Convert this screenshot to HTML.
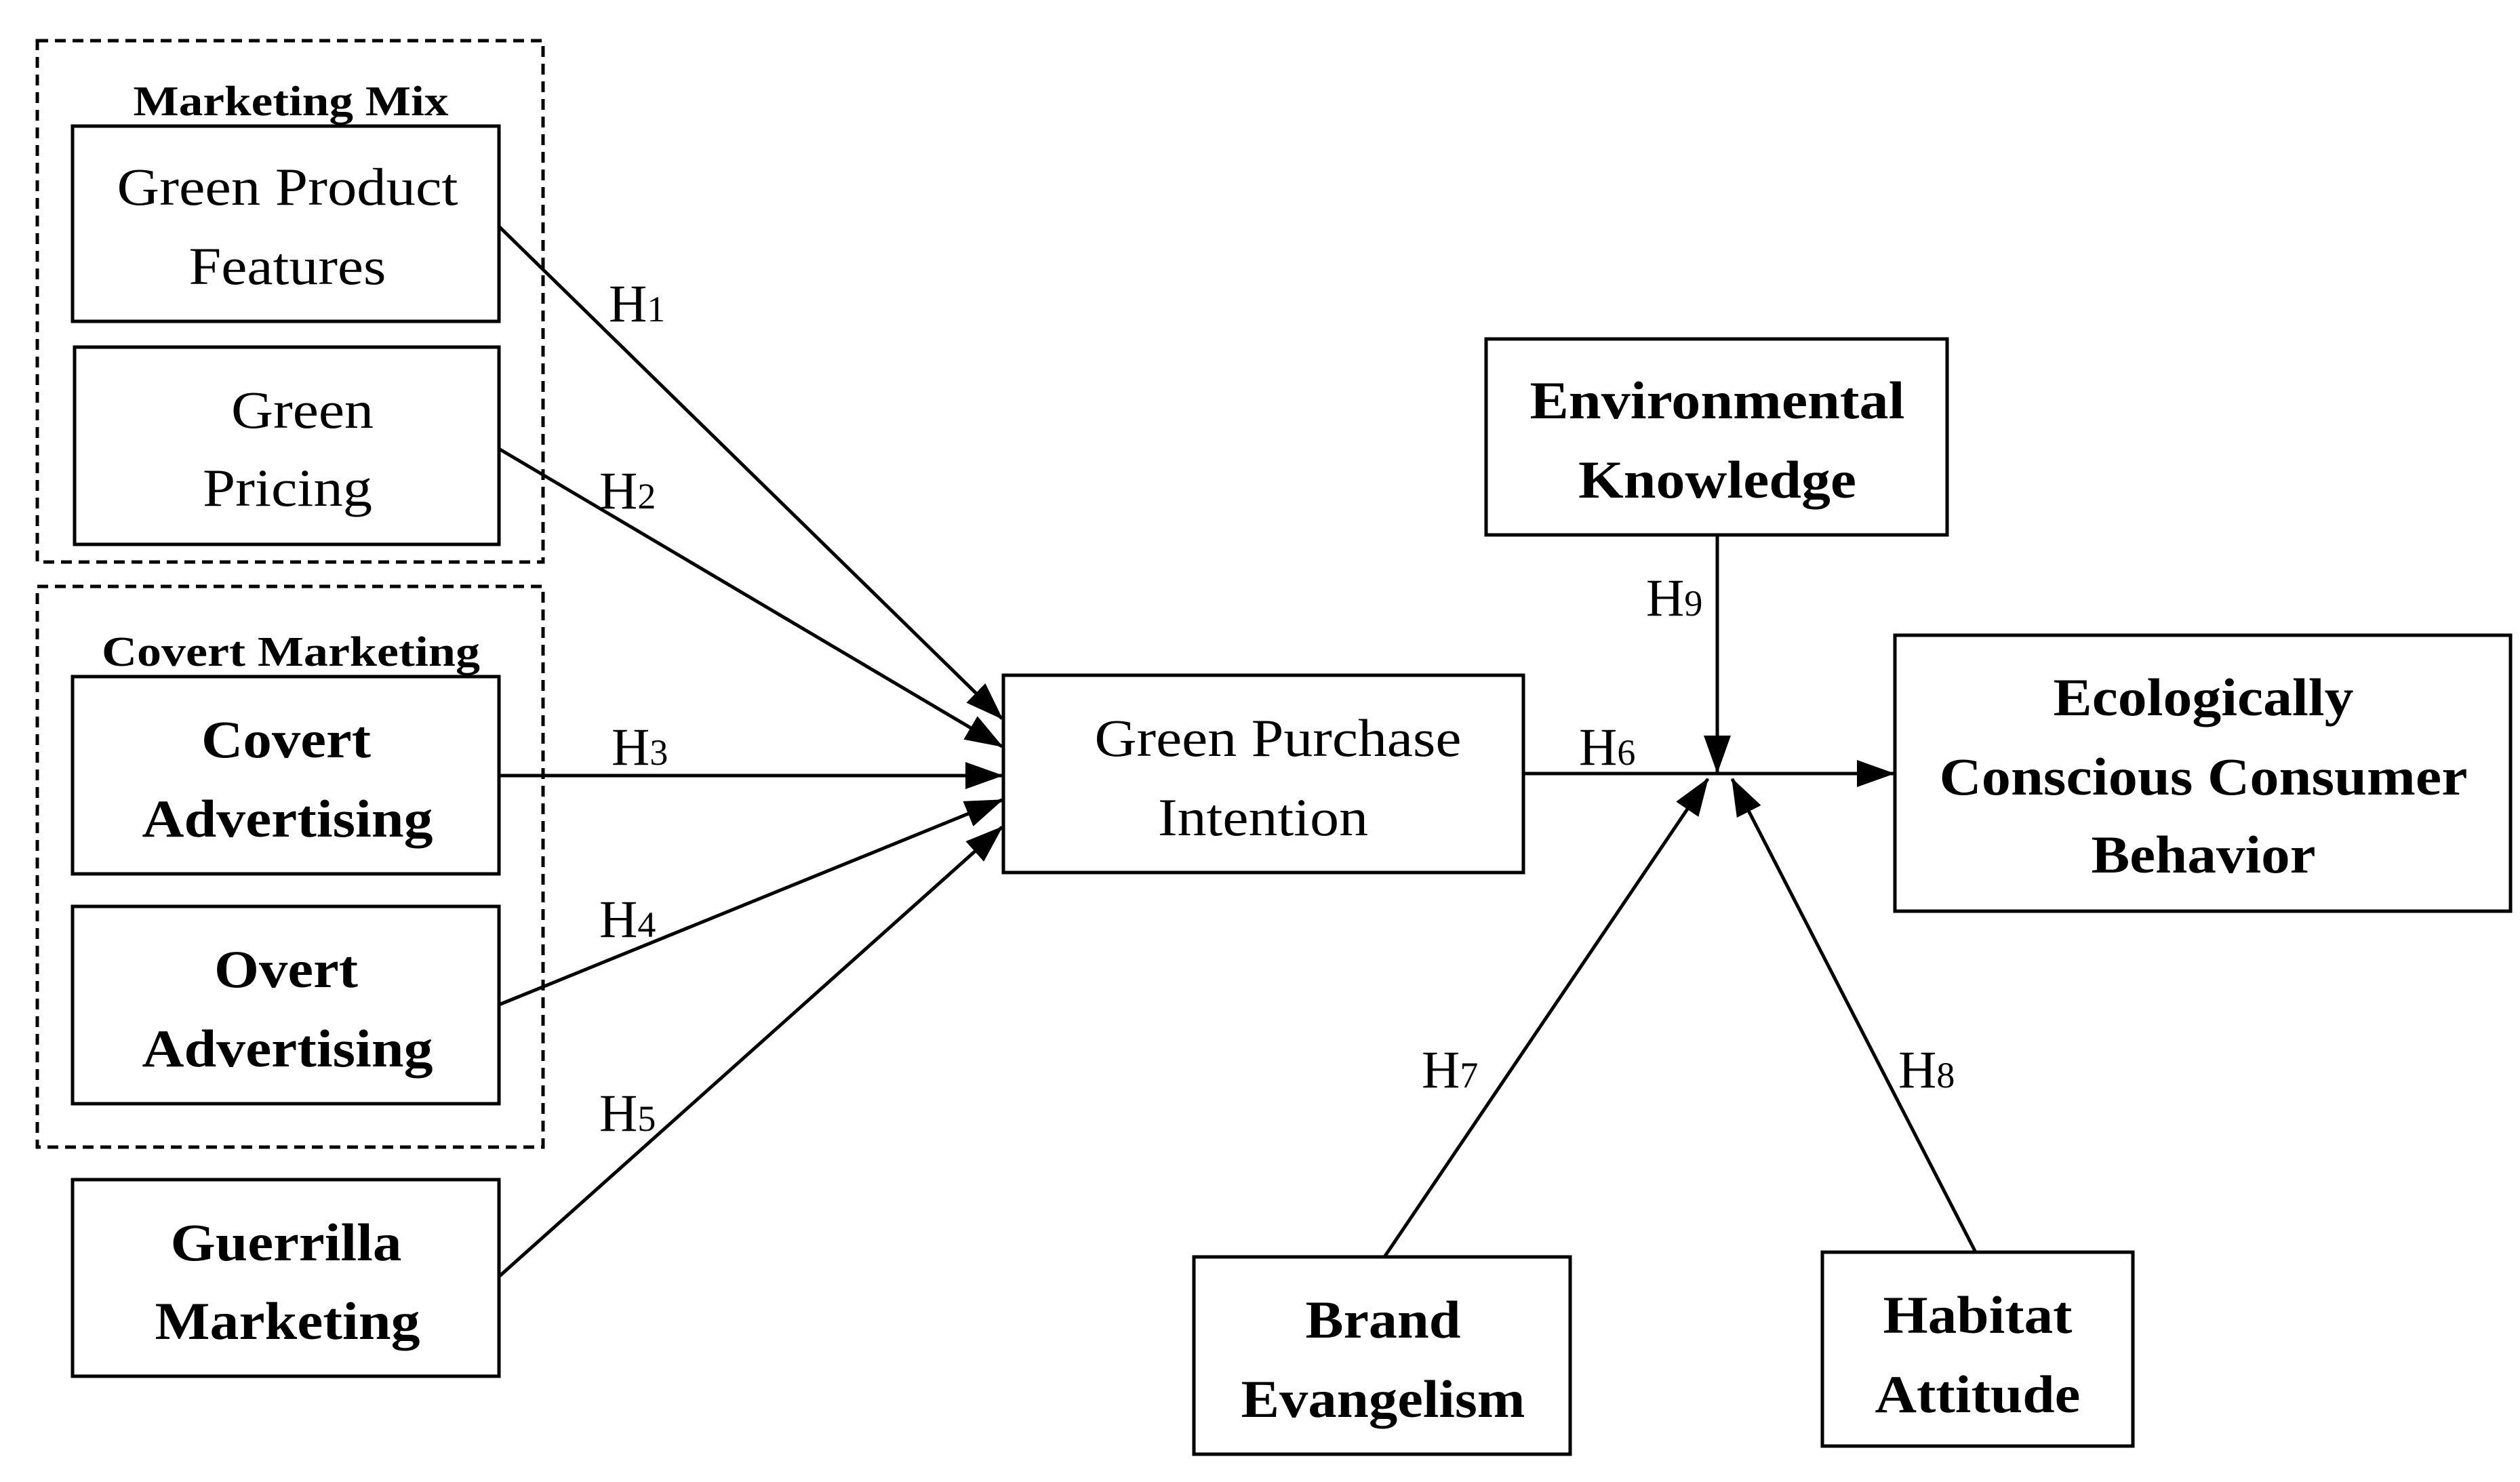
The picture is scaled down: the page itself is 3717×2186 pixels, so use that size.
<!DOCTYPE html>
<html><head><meta charset="utf-8"><style>html,body{margin:0;padding:0;background:#fff}svg{display:block}</style></head>
<body>
<svg xmlns="http://www.w3.org/2000/svg" width="3717" height="2186" viewBox="0 0 3717 2186">
<defs>
<marker id="a" markerUnits="userSpaceOnUse" markerWidth="56" markerHeight="40" refX="54" refY="20" orient="auto">
<path d="M0,0 L56,20 L0,40 z" fill="#000"/>
</marker>
</defs>
<rect width="3717" height="2186" fill="#fff"/>
<g fill="none" stroke="#000" stroke-width="5">
<rect x="55" y="60" width="746" height="769" stroke-dasharray="16,10"/>
<rect x="55" y="865" width="746" height="827" stroke-dasharray="16,10"/>
<rect x="107" y="186" width="629" height="288"/>
<rect x="110" y="512" width="626" height="291"/>
<rect x="107" y="998" width="629" height="291"/>
<rect x="107" y="1337" width="629" height="291"/>
<rect x="107" y="1740" width="629" height="290"/>
<rect x="1480" y="996" width="767" height="291"/>
<rect x="2192" y="500" width="680" height="289"/>
<rect x="2795" y="937" width="908" height="407"/>
<rect x="1761" y="1854" width="555" height="291"/>
<rect x="2688" y="1847" width="458" height="286"/>
<line x1="736" y1="334" x2="1478" y2="1060" marker-end="url(#a)"/>
<line x1="736" y1="662" x2="1478" y2="1101" marker-end="url(#a)"/>
<line x1="736" y1="1144" x2="1478" y2="1144" marker-end="url(#a)"/>
<line x1="736" y1="1482" x2="1478" y2="1180" marker-end="url(#a)"/>
<line x1="736" y1="1883" x2="1478" y2="1220" marker-end="url(#a)"/>
<line x1="2247" y1="1141" x2="2793" y2="1141" marker-end="url(#a)"/>
<line x1="2533" y1="789" x2="2533" y2="1139" marker-end="url(#a)"/>
<line x1="2042" y1="1854" x2="2519" y2="1149" marker-end="url(#a)"/>
<line x1="2914" y1="1847" x2="2555" y2="1149" marker-end="url(#a)"/>
</g>
<g font-family="Liberation Serif, serif" fill="#000" text-anchor="middle">
<text x="429" y="170" font-size="62" font-weight="bold" textLength="465" lengthAdjust="spacingAndGlyphs">Marketing Mix</text>
<text x="429" y="982" font-size="62" font-weight="bold" textLength="558" lengthAdjust="spacingAndGlyphs">Covert Marketing</text>
<g font-size="78">
<text x="424" y="302" textLength="503" lengthAdjust="spacingAndGlyphs">Green Product</text>
<text x="424" y="419" textLength="291" lengthAdjust="spacingAndGlyphs">Features</text>
<text x="446" y="631" textLength="210" lengthAdjust="spacingAndGlyphs">Green</text>
<text x="424" y="746" textLength="250" lengthAdjust="spacingAndGlyphs">Pricing</text>
<text x="1885" y="1115" textLength="541" lengthAdjust="spacingAndGlyphs">Green Purchase</text>
<text x="1863" y="1232" textLength="310" lengthAdjust="spacingAndGlyphs">Intention</text>
</g>
<g font-size="78" font-weight="bold">
<text x="422" y="1117" textLength="250" lengthAdjust="spacingAndGlyphs">Covert</text>
<text x="424" y="1234" textLength="429" lengthAdjust="spacingAndGlyphs">Advertising</text>
<text x="422" y="1456" textLength="212" lengthAdjust="spacingAndGlyphs">Overt</text>
<text x="424" y="1573" textLength="429" lengthAdjust="spacingAndGlyphs">Advertising</text>
<text x="422" y="1859" textLength="341" lengthAdjust="spacingAndGlyphs">Guerrilla</text>
<text x="424" y="1975" textLength="391" lengthAdjust="spacingAndGlyphs">Marketing</text>
<text x="2533" y="617" textLength="553" lengthAdjust="spacingAndGlyphs">Environmental</text>
<text x="2533" y="734" textLength="410" lengthAdjust="spacingAndGlyphs">Knowledge</text>
<text x="3250" y="1055" textLength="443" lengthAdjust="spacingAndGlyphs">Ecologically</text>
<text x="3250" y="1172" textLength="779" lengthAdjust="spacingAndGlyphs">Conscious Consumer</text>
<text x="3250" y="1287" textLength="331" lengthAdjust="spacingAndGlyphs">Behavior</text>
<text x="2040" y="1973" textLength="229" lengthAdjust="spacingAndGlyphs">Brand</text>
<text x="2040" y="2090" textLength="419" lengthAdjust="spacingAndGlyphs">Evangelism</text>
<text x="2917" y="1966" textLength="279" lengthAdjust="spacingAndGlyphs">Habitat</text>
<text x="2917" y="2083" textLength="303" lengthAdjust="spacingAndGlyphs">Attitude</text>
</g>
</g>
<g font-family="Liberation Serif, serif" font-size="78" fill="#000">
<text x="898" y="474">H<tspan font-size="54">1</tspan></text>
<text x="884" y="750">H<tspan font-size="54">2</tspan></text>
<text x="902" y="1128">H<tspan font-size="54">3</tspan></text>
<text x="884" y="1382">H<tspan font-size="54">4</tspan></text>
<text x="884" y="1668">H<tspan font-size="54">5</tspan></text>
<text x="2329" y="1128">H<tspan font-size="54">6</tspan></text>
<text x="2428" y="908">H<tspan font-size="54">9</tspan></text>
<text x="2097" y="1604">H<tspan font-size="54">7</tspan></text>
<text x="2800" y="1604">H<tspan font-size="54">8</tspan></text>
</g>
</svg>
</body></html>
